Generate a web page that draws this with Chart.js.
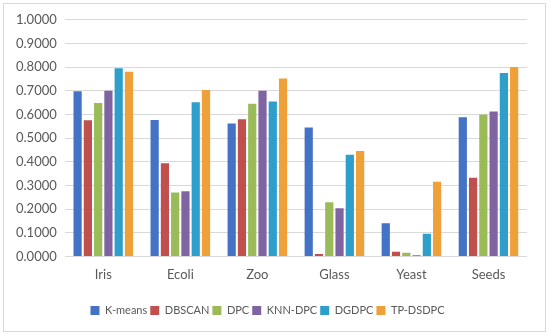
<!DOCTYPE html>
<html>
<head>
<meta charset="utf-8">
<script src="https://cdn.jsdelivr.net/npm/chart.js@4"></script>
<style>
  html, body { margin: 0; padding: 0; background: #fff; }
  #wrap { position: absolute; left: 3px; top: 3px; width: 543px; height: 329px; border: 1px solid #d9d9d9; box-sizing: border-box; }
  #c { position: absolute; left: 0; top: 0; }
</style>
</head>
<body>
<div id="wrap"><canvas id="c" width="541" height="327"></canvas></div>
<script>
const categories = ["Iris", "Ecoli", "Zoo", "Glass", "Yeast", "Seeds"];
const seriesNames = ["K-means", "DBSCAN", "DPC", "KNN-DPC", "DGDPC", "TP-DSDPC"];
const kmeans  = [0.698, 0.576, 0.562, 0.545, 0.140, 0.588];
const dbscan  = [0.575, 0.394, 0.580, 0.010, 0.020, 0.332];
const dpc     = [0.648, 0.270, 0.645, 0.229, 0.015, 0.600];
const knndpc  = [0.700, 0.275, 0.700, 0.203, 0.005, 0.612];
const dgdpc   = [0.795, 0.652, 0.655, 0.430, 0.096, 0.775];
const tpdsdpc = [0.780, 0.703, 0.752, 0.445, 0.315, 0.800];
const yTicks  = [0, 0.1, 0.2, 0.3, 0.4, 0.5, 0.6, 0.7, 0.8, 0.9, 1.0];
const colors  = ["#4472C4", "#C0504D", "#9BBB59", "#8064A2", "#2E9FCB", "#F0A038"];

const values = [kmeans, dbscan, dpc, knndpc, dgdpc, tpdsdpc];
new Chart(document.getElementById('c'), {
  type: 'bar',
  data: {
    labels: categories,
    datasets: seriesNames.map((n, i) => ({
      label: n, data: values[i], backgroundColor: colors[i],
      categoryPercentage: 0.8, barPercentage: 0.8
    }))
  },
  options: {
    responsive: false,
    animation: false,
    layout: { padding: { left: 4, right: 18, top: 11, bottom: 5 } },
    plugins: {
      legend: {
        position: 'bottom',
        labels: { boxWidth: 9, boxHeight: 9, padding: 3, color: '#595959',
                  font: { family: 'Lato', size: 11 } }
      },
      tooltip: { enabled: false }
    },
    scales: {
      x: {
        grid: { display: false, drawTicks: false },
        border: { display: false },
        ticks: { color: '#595959', font: { family: 'Lato', size: 13 }, padding: 11 },
        afterFit: (s) => { s.height += 8; }
      },
      y: {
        min: 0, max: 1,
        afterBuildTicks: (ax) => { ax.ticks = yTicks.map(v => ({ value: v })); },
        grid: { color: '#d9d9d9', drawTicks: false },
        border: { display: false },
        ticks: { color: '#595959', font: { family: 'Lato', size: 13 }, padding: 8,
                 callback: (v) => Number(v).toFixed(4) }
      }
    }
  }
});
</script>
</body>
</html>
